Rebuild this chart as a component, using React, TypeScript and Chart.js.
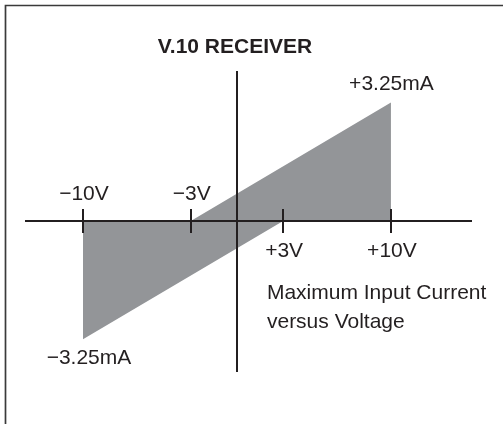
import React, { useEffect, useRef } from 'react';
import { Chart, registerables } from 'chart.js';

Chart.register(...registerables);

// ---- chart content ----
const chartTitle = 'V.10 RECEIVER';
const voltageTicks = [-10, -3, 3, 10];
const voltageLabels = ['−10V', '−3V', '+3V', '+10V'];
// upper boundary of the shaded band (volts, milliamps)
const upperEdgeVolts = [-10, -3, 10];
const upperEdgeMilliamps = [0, 0, 3.25];
// lower boundary of the shaded band (volts, milliamps)
const lowerEdgeVolts = [-10, 3, 10];
const lowerEdgeMilliamps = [-3.25, 0, 0];
// current annotations at the band corners
const currentLabels = ['+3.25mA', '−3.25mA'];
const currentLabelVolts = [10, -10];
const currentLabelMilliamps = [3.25, -3.25];
const captionLines = ['Maximum Input Current', 'versus Voltage'];
// axis extents
const voltageRange = [-13.7, 15.2];
const currentRange = [-4.12, 4.09];

// ---- styles ----
const INK = '#231f20';
const BAND = '#939598';
const FONT = '"Liberation Sans", Arial, Helvetica, sans-serif';

const annotate = {
  id: 'annotate',
  beforeDraw(chart: any) {
    const ctx = chart.ctx;
    ctx.save();
    ctx.strokeStyle = '#3a3a3a';
    ctx.lineWidth = 1.7;
    ctx.beginPath();
    ctx.moveTo(5.5, chart.height);
    ctx.lineTo(5.5, 5.5);
    ctx.lineTo(chart.width, 5.5);
    ctx.stroke();
    ctx.restore();
  },
  afterDraw(chart: any) {
    const { ctx } = chart;
    const x = chart.scales.x;
    const y = chart.scales.y;
    const x0 = x.getPixelForValue(0);
    const y0 = y.getPixelForValue(0);
    ctx.save();
    // tick marks crossing the voltage axis
    ctx.strokeStyle = INK;
    ctx.lineWidth = 2;
    voltageTicks.forEach((v) => {
      const px = Math.round(x.getPixelForValue(v));
      ctx.beginPath();
      ctx.moveTo(px, y0 - 12);
      ctx.lineTo(px, y0 + 12);
      ctx.stroke();
    });
    ctx.fillStyle = INK;
    ctx.textBaseline = 'alphabetic';
    // title
    ctx.font = `bold 21px ${FONT}`;
    ctx.textAlign = 'center';
    ctx.fillText(chartTitle, x0 - 2, chart.chartArea.top - 19);
    // voltage labels
    ctx.font = `21px ${FONT}`;
    voltageLabels.forEach((t, i) => {
      const v = voltageTicks[i];
      const px = x.getPixelForValue(v);
      ctx.fillText(t, px + 1, v < 0 ? y0 - 21 : y0 + 36);
    });
    // current labels
    currentLabels.forEach((t, i) => {
      const px = x.getPixelForValue(currentLabelVolts[i]);
      const py = y.getPixelForValue(currentLabelMilliamps[i]);
      const up = currentLabelMilliamps[i] > 0;
      ctx.fillText(t, px + (up ? 0.5 : 6), up ? py - 13 : py + 25);
    });
    // caption
    ctx.textAlign = 'left';
    captionLines.forEach((t, i) => {
      ctx.fillText(t, x0 + 30, y0 + 78 + i * 29.5);
    });
    ctx.restore();
  },
};

export default function App() {
  const canvasRef = useRef<HTMLCanvasElement>(null);

  useEffect(() => {
    const canvas = canvasRef.current;
    if (!canvas) return;
    const axisCommon = {
      type: 'linear' as const,
      ticks: { display: false },
      grid: { drawOnChartArea: false, drawTicks: false },
      border: { display: true, color: INK, width: 2, z: 1 },
    };
    const chart = new Chart(canvas, {
      type: 'line',
      data: {
        datasets: [
          {
            label: 'upper edge',
            data: upperEdgeVolts.map((v, i) => ({ x: v, y: upperEdgeMilliamps[i] })),
            borderWidth: 0,
            borderColor: 'rgba(0,0,0,0)',
            backgroundColor: BAND,
            pointRadius: 0,
            tension: 0,
            fill: false,
          },
          {
            label: 'lower edge',
            data: lowerEdgeVolts.map((v, i) => ({ x: v, y: lowerEdgeMilliamps[i] })),
            borderWidth: 0,
            borderColor: 'rgba(0,0,0,0)',
            backgroundColor: BAND,
            pointRadius: 0,
            tension: 0,
            fill: '-1',
          },
        ],
      },
      options: {
        responsive: false,
        animation: false,
        devicePixelRatio: 1,
        events: [],
        layout: { padding: { left: 26, right: 32, top: 72, bottom: 53 } },
        plugins: {
          legend: { display: false },
          title: { display: false },
          tooltip: { enabled: false },
        },
        scales: {
          x: {
            ...axisCommon,
            min: voltageRange[0],
            max: voltageRange[1],
            position: { y: 0 },
          },
          y: {
            ...axisCommon,
            min: currentRange[0],
            max: currentRange[1],
            position: { x: 0 },
          },
        },
      } as any,
      plugins: [annotate],
    });
    return () => chart.destroy();
  }, []);

  return (
    <div
      style={{
        position: 'fixed',
        left: 0,
        top: 0,
        width: 503,
        height: 424,
        background: '#ffffff',
      }}
    >
      <canvas ref={canvasRef} width={503} height={424} style={{ display: 'block' }} />
    </div>
  );
}
